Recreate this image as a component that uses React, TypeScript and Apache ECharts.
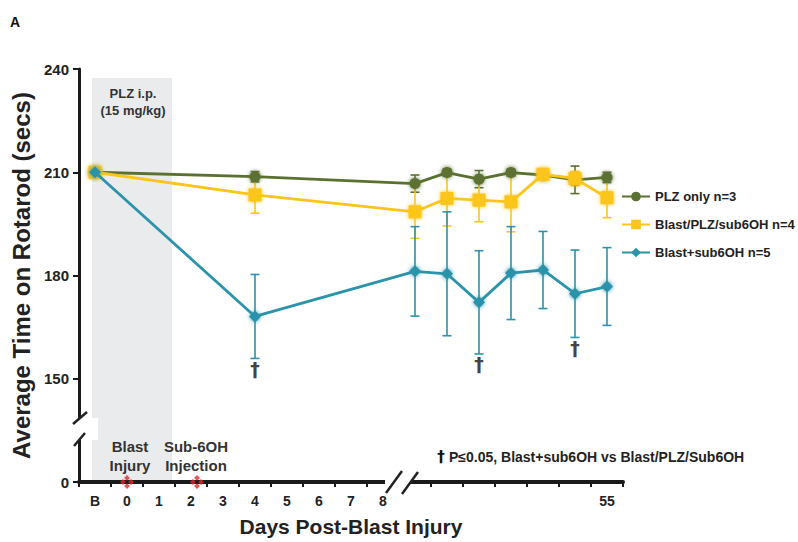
import React, { useEffect, useRef } from "react";
import * as echarts from "echarts";

const FONT = '"Liberation Sans", Arial, Helvetica, sans-serif';
const DAGGER_FONT = '"DejaVu Sans", "Liberation Sans", sans-serif';

// categories (B = baseline, p* = unlabeled post-break sessions, last = day 55)
const xCats = ["B", "0", "1", "2", "3", "4", "5", "6", "7", "8", "p1", "p2", "p3", "p4", "p5", "p6", "55"];
const yTicks = [120, 150, 180, 210, 240]; // 120 is drawn as the broken-axis "0"
const yZero = 120;

const plzOnly = [210, null, null, null, null, 208.7, null, null, null, null, 206.7, 209.9, 208.0, 209.9, 209.2, 207.8, 208.5];
const plzOnlyErr = [0, 0, 0, 0, 0, 1.5, 0, 0, 0, 0, 2.5, 1, 2.5, 1, 1, 4, 1.5];

const blastPlz = [210, null, null, null, null, 203.4, null, null, null, null, 198.5, 202.4, 201.9, 201.4, 209.4, 208.2, 202.6];
const blastPlzErr = [0, 0, 0, 0, 0, 5.3, 0, 0, 0, 0, 7.7, 8, 6.3, 8.7, 1, 2, 5.8];

const blastSub = [210, null, null, null, null, 168.1, null, null, null, null, 181.2, 180.5, 172.2, 180.7, 181.6, 174.7, 176.8];
const blastSubErr = [0, 0, 0, 0, 0, 12.2, 0, 0, 0, 0, 13, 18, 15, 13.5, 11.2, 12.7, 11.3];

const daggerIdx = [5, 12, 15];
const eventIdx = [1, 3]; // blast injury (day 0), sub-6OH injection (day 2)

const seriesNames = ["PLZ only n=3", "Blast/PLZ/sub6OH n=4", "Blast+sub6OH n=5"];
const colors = ["#5b7132", "#fcc51c", "#2b93aa"];

function errData(vals: (number | null)[], errs: number[]) {
  const out: number[][] = [];
  vals.forEach((v, i) => {
    if (v != null && errs[i] > 0) out.push([i, v - errs[i], v + errs[i]]);
  });
  return out;
}

function errSeries(vals: (number | null)[], errs: number[], color: string, z: number) {
  return {
    type: "custom",
    silent: true,
    z,
    data: errData(vals, errs),
    encode: { x: 0, y: [1, 2] },
    renderItem: (params: any, api: any) => {
      const x = api.value(0);
      const lo = api.coord([x, api.value(1)]);
      const hi = api.coord([x, api.value(2)]);
      const w = 4.5;
      const st = { stroke: color, lineWidth: 1.6 };
      return {
        type: "group",
        children: [
          { type: "line", shape: { x1: lo[0], y1: lo[1], x2: hi[0], y2: hi[1] }, style: st },
          { type: "line", shape: { x1: lo[0] - w, y1: lo[1], x2: lo[0] + w, y2: lo[1] }, style: st },
          { type: "line", shape: { x1: hi[0] - w, y1: hi[1], x2: hi[0] + w, y2: hi[1] }, style: st },
        ],
      };
    },
  };
}

export default function App() {
  const ref = useRef<HTMLDivElement>(null);
  useEffect(() => {
    document.body.style.margin = "0";
    const chart = echarts.init(ref.current!, null, { renderer: "svg" });
    const lineSeries = (name: string, data: (number | null)[], color: string, symbol: string, size: number, z: number) => ({
      type: "line",
      name,
      data,
      connectNulls: true,
      symbol,
      symbolSize: size,
      z,
      lineStyle: { color, width: 2.8 },
      itemStyle: { color, shadowBlur: 4, shadowColor: color },
    });
    const option: any = {
      animation: false,
      textStyle: { fontFamily: FONT },
      grid: { left: 79, right: 175, top: 69, bottom: 59, containLabel: false },
      legend: {
        data: seriesNames,
        orient: "vertical",
        left: 621,
        top: 190,
        padding: 0,
        itemWidth: 28,
        itemHeight: 12,
        itemGap: 15,
        textStyle: { fontFamily: FONT, fontSize: 13, fontWeight: "bold", color: "#222" },
      },
      xAxis: {
        type: "category",
        data: xCats,
        boundaryGap: true,
        name: "Days Post-Blast Injury",
        nameLocation: "middle",
        nameGap: 34,
        nameTextStyle: { fontFamily: FONT, fontSize: 21, fontWeight: "bold", color: "#222" },
        axisLine: { lineStyle: { color: "#1a1a1a", width: 4 } },
        axisTick: { show: true, length: 5, lineStyle: { color: "#1a1a1a", width: 2 } },
        axisLabel: {
          interval: 0,
          margin: 12,
          fontFamily: FONT,
          fontSize: 14,
          fontWeight: "bold",
          color: "#222",
          formatter: (v: string) => (v.startsWith("p") ? "" : v),
        },
        splitLine: { show: false },
      },
      yAxis: {
        type: "value",
        min: yTicks[0],
        max: yTicks[yTicks.length - 1],
        interval: 30,
        name: "Average Time on Rotarod (secs)",
        nameLocation: "middle",
        nameGap: 44,
        nameTextStyle: { fontFamily: FONT, fontSize: 24, fontWeight: "bold", color: "#222" },
        axisLine: { show: true, lineStyle: { color: "#1a1a1a", width: 3 } },
        axisTick: { show: true, length: 6, lineStyle: { color: "#1a1a1a", width: 2 } },
        axisLabel: {
          margin: 10,
          fontFamily: FONT,
          fontSize: 15,
          fontWeight: "bold",
          color: "#222",
          formatter: (v: number) => (v === yZero ? "0" : String(v)),
        },
        splitLine: { show: false },
      },
      series: [
        errSeries(plzOnly, plzOnlyErr, colors[0], 2),
        errSeries(blastPlz, blastPlzErr, colors[1], 2),
        errSeries(blastSub, blastSubErr, colors[2], 2),
        lineSeries(seriesNames[0], plzOnly, colors[0], "circle", 11, 3),
        lineSeries(seriesNames[1], blastPlz, colors[1], "rect", 13, 4),
        lineSeries(seriesNames[2], blastSub, colors[2], "diamond", 12, 5),
        {
          type: "scatter",
          silent: true,
          symbolSize: 0,
          z: 6,
          data: daggerIdx.map((i) => [i, (blastSub[i] as number) - blastSubErr[i]]),
          label: {
            show: true,
            position: "bottom",
            distance: 1,
            formatter: "\u2020",
            fontFamily: DAGGER_FONT,
            fontSize: 19,
            fontWeight: "bold",
            color: "#111",
          },
        },
        {
          type: "scatter",
          silent: true,
          z: 8,
          symbol:
            "path://M6 0L8.5 2.5L6 5L3.5 2.5ZM9.5 3.5L12 6L9.5 8.5L7 6ZM6 7L8.5 9.5L6 12L3.5 9.5ZM2.5 3.5L5 6L2.5 8.5L0 6Z",
          symbolSize: 14,
          itemStyle: { color: "#e3262a" },
          data: eventIdx.map((i) => ({ value: [i, yZero], symbolOffset: i === 3 ? [6, 0] : [0, 0] })),
        },
      ],
    };
    chart.setOption(option);

    const px = (i: number) => chart.convertToPixel({ xAxisIndex: 0 }, i) as number;
    const py = (v: number) => chart.convertToPixel({ yAxisIndex: 0 }, v) as number;
    const shadeL = px(0) - 3;
    const shadeR = px(2) + 13;
    const shadeT = py(237.4);
    const shadeB = py(yZero) - 2;
    const axisX = 79;
    const axisY = py(yZero);
    const txt = (text: string, x: number, y: number, size: number, align = "center", color = "#333", font = FONT) => ({
      type: "text",
      z: 10,
      style: { text, x, y, fill: color, font: `bold ${size}px ${font}`, textAlign: align, textVerticalAlign: "middle" },
    });
    const slash = (x1: number, y1: number, x2: number, y2: number) => ({
      type: "line",
      z: 12,
      shape: { x1, y1, x2, y2 },
      style: { stroke: "#222", lineWidth: 2.5 },
    });
    chart.setOption({
      graphic: [
        { type: "rect", z: -1, silent: true, shape: { x: shadeL, y: shadeT, width: shadeR - shadeL, height: shadeB - shadeT }, style: { fill: "#eaebec" } },
        // y-axis break
        { type: "rect", z: 11, shape: { x: axisX - 6, y: 418, width: 25, height: 22 }, style: { fill: "#fff" } },
        slash(axisX - 6, 424, axisX + 8, 412),
        slash(axisX - 5, 446, axisX + 6, 433),
        // x-axis break
        { type: "rect", z: 11, shape: { x: 385, y: axisY - 6, width: 26, height: 12 }, style: { fill: "#fff" } },
        slash(386, 493, 402, 471),
        slash(402, 494, 418, 472),
        txt("A", 10, 22, 14, "left", "#111"),
        txt("PLZ i.p.", 133, 93, 13),
        txt("(15 mg/kg)", 133, 110, 13),
        txt("Blast", 130, 446, 15),
        txt("Injury", 130, 465, 15),
        txt("Sub-6OH", 196, 446, 15),
        txt("Injection", 196, 465, 15),
        txt("\u2020", 441, 457, 15, "center", "#111", DAGGER_FONT),
        txt("P\u22640.05, Blast+sub6OH vs Blast/PLZ/Sub6OH", 449, 457, 14, "left", "#222"),
      ],
    });
    return () => chart.dispose();
  }, []);
  return <div ref={ref} style={{ position: "absolute", left: 0, top: 0, width: 798, height: 542 }} />;
}
